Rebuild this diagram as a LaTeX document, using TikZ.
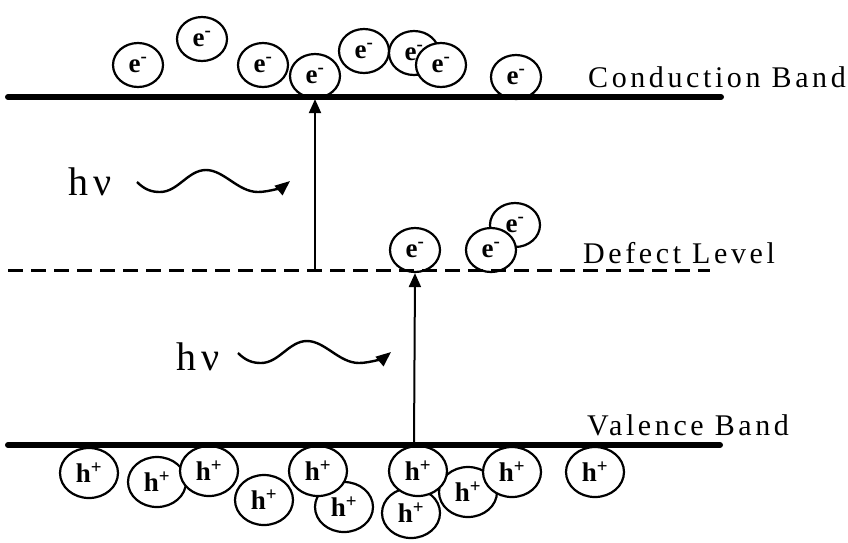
\documentclass[tikz,border=0pt]{standalone}
\usepackage{fontspec}
\setmainfont{Liberation Serif}
\newfontfamily\spacedfont[LetterSpace=12]{Liberation Serif}
\usepackage{tikz}
\usetikzlibrary{shapes.geometric, positioning}
\usetikzlibrary{arrows.meta}
\tikzset{>={Triangle[width=12pt,length=14pt]}}

\begin{document}
\begin{tikzpicture}[x=1pt, y=-1pt, electron/.style={ellipse, draw=black, fill=white, line width=2.2pt, minimum width=50pt, minimum height=44pt, inner sep=0pt, font=\fontsize{27}{27}\selectfont\bfseries}, hole/.style={electron, minimum width=58pt, minimum height=50pt}, band/.style={line width=6pt, line cap=round}, level/.style={line width=3pt, dash pattern=on 15pt off 8pt}, bandlabel/.style={anchor=base west, inner sep=0pt, font=\fontsize{30}{30}\spacedfont}, photon/.style={anchor=base, inner sep=0pt, font=\fontsize{40}{40}\spacedfont}, wave/.style={line width=2.4pt, -{Triangle[width=12pt,length=15pt]}}]
    
    \useasboundingbox (0,0) rectangle (848,542);
    
    %Nodes
    \coordinate (cb_w) at (8,97);
    \coordinate (cb_e) at (721,97);
    \coordinate (dl_w) at (8,270);
    \coordinate (dl_e) at (710,270);
    \coordinate (vb_w) at (8,445);
    \coordinate (vb_e) at (720,445);
    \coordinate (dl_up) at (315,270);
    \coordinate (vb_up) at (414,445);
    \node[bandlabel](cb_text) at (588,87){Conduction Band};
    \node[bandlabel](dl_text) at (583,263){Defect Level};
    \node[bandlabel](vb_text) at (587,435){Valence Band};
    \node[photon](hv_top) at (90,195){hν};
    \node[photon](hv_low) at (198,370){hν};
    \coordinate (w_top) at (137,182);
    \coordinate (w_low) at (238,353);
    
    \node[electron](e1) at (138,65){e\textsuperscript{-}};
    \node[electron](e2) at (202,39){e\textsuperscript{-}};
    \node[electron](e3) at (263,65){e\textsuperscript{-}};
    \node[electron](e4) at (315,76){e\textsuperscript{-}};
    \node[electron](e5) at (364,51){e\textsuperscript{-}};
    \node[electron](e6) at (414,53){e\textsuperscript{-}};
    \node[electron](e7) at (441,65){e\textsuperscript{-}};
    \node[electron](e8) at (516,77){e\textsuperscript{-}};
    
    \node[electron](d3) at (515,225){e\textsuperscript{-}};
    \node[electron](d1) at (415,250){e\textsuperscript{-}};
    \node[electron](d2) at (491,250){e\textsuperscript{-}};
    
    \node[hole](h4) at (264,500){h\textsuperscript{+}};
    \node[hole](h6) at (344,507){h\textsuperscript{+}};
    \node[hole](h8) at (411,513){h\textsuperscript{+}};
    \node[hole](h9) at (468,492){h\textsuperscript{+}};
    \node[hole](h1) at (89,473){h\textsuperscript{+}};
    \node[hole](h2) at (157,482){h\textsuperscript{+}};
    \node[hole](h3) at (209,471){h\textsuperscript{+}};
    \node[hole](h5) at (318,471){h\textsuperscript{+}};
    \node[hole](h7) at (418,471){h\textsuperscript{+}};
    \node[hole](h10) at (512,472){h\textsuperscript{+}};
    \node[hole](h11) at (595,472){h\textsuperscript{+}};
    
    %Lines
    \draw[band] (cb_w) -- (cb_e);
    \draw[level] (dl_w) -- (dl_e);
    \draw[band] (vb_w) -- (vb_e);
    \draw[->, line width=2pt] (dl_up) -- (e4.south);
    \draw[->, line width=2pt] (vb_up) -- (d1.south);
    \draw[wave] (w_top) .. controls +(8,8) and +(-8,0) .. ++(23,10) .. controls +(18,0) and +(-18,0) .. ++(46,-22) .. controls +(18,0) and +(-20,0) .. ++(52,22) .. controls +(12,0) and +(-6,5) .. ++(32,-11);
    \draw[wave] (w_low) .. controls +(8,8) and +(-8,0) .. ++(23,10) .. controls +(18,0) and +(-18,0) .. ++(46,-22) .. controls +(18,0) and +(-20,0) .. ++(52,22) .. controls +(12,0) and +(-6,5) .. ++(32,-11);
    
\end{tikzpicture}
\end{document}
